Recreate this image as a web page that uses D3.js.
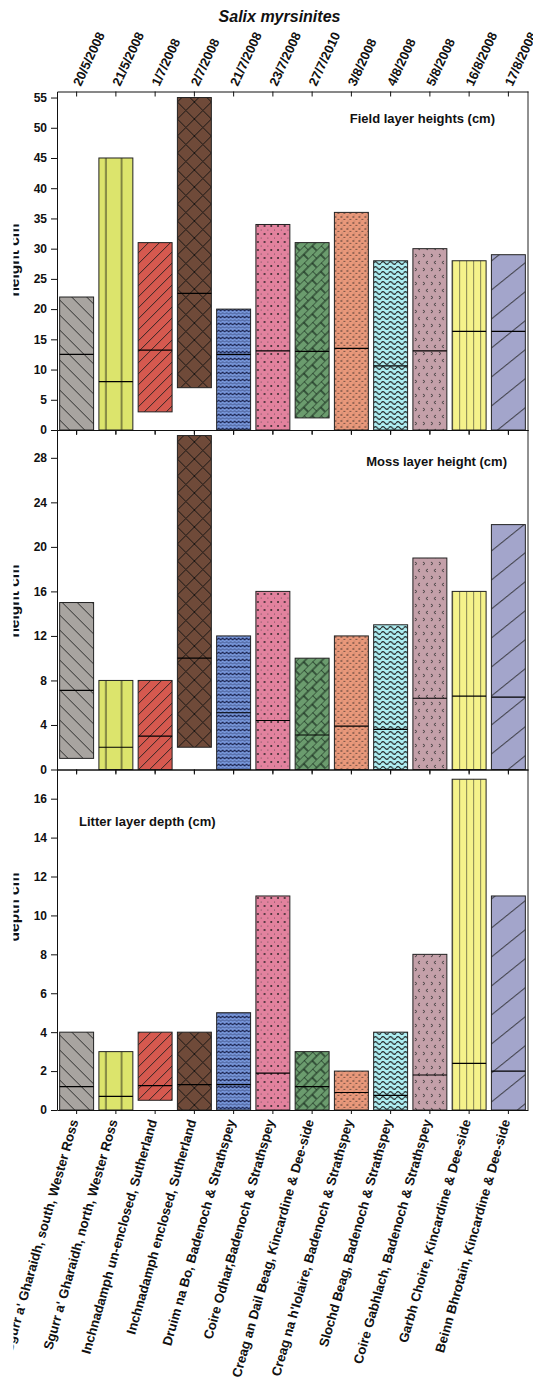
<!DOCTYPE html>
<html>
<head>
<meta charset="utf-8">
<script src="https://cdn.jsdelivr.net/npm/d3@7"></script>
<style>
  html, body { margin: 0; padding: 0; background: #fff; }
  svg { display: block; font-family: "Liberation Sans", Arial, sans-serif; }
</style>
</head>
<body>
<svg id="chart" width="533" height="1386"></svg>
<script>
// Sites, survey dates and the three vertical-structure measurements
const sites = [
  "Sgurr a' Gharaidh, south, Wester Ross",
  "Sgurr a' Gharaidh, north, Wester Ross",
  "Inchnadamph un-enclosed, Sutherland",
  "Inchnadamph enclosed, Sutherland",
  "Druim na Bo, Badenoch & Strathspey",
  "Coire Odhar,Badenoch & Strathspey",
  "Creag an Dail Beag, Kincardine & Dee-side",
  "Creag na h'Iolaire, Badenoch & Strathspey",
  "Slochd Beag, Badenoch & Strathspey",
  "Coire Gabhlach, Badenoch & Strathspey",
  "Garbh Choire, Kincardine & Dee-side",
  "Beinn Bhrotain, Kincardine & Dee-side"
];
const dates = ["20/5/2008", "21/5/2008", "1/7/2008", "2/7/2008", "21/7/2008", "23/7/2008",
               "27/7/2010", "3/8/2008", "4/8/2008", "5/8/2008", "16/8/2008", "17/8/2008"];

const fieldLow    = [0, 0, 3, 7, 0, 0, 2, 0, 0, 0, 0, 0];
const fieldMedian = [12.5, 8, 13.2, 22.6, 12.5, 13.1, 13, 13.5, 10.6, 13.1, 16.3, 16.3];
const fieldHigh   = [22, 45, 31, 55, 20, 34, 31, 36, 28, 30, 28, 29];

const mossLow    = [1, 0, 0, 2, 0, 0, 0, 0, 0, 0, 0, 0];
const mossMedian = [7.1, 2, 3, 10, 5.1, 4.4, 3.1, 3.9, 3.6, 6.4, 6.6, 6.5];
const mossHigh   = [15, 8, 8, 30, 12, 16, 10, 12, 13, 19, 16, 22];

const litterLow    = [0, 0, 0.5, 0, 0, 0, 0, 0, 0, 0, 0, 0];
const litterMedian = [1.2, 0.7, 1.25, 1.3, 1.3, 1.9, 1.2, 0.9, 0.75, 1.8, 2.4, 2.0];
const litterHigh   = [4, 3, 4, 4, 5, 11, 3, 2, 4, 8, 17, 11];

const fieldTicks  = d3.range(0, 56, 5);
const mossTicks   = d3.range(0, 29, 4);
const litterTicks = d3.range(0, 17, 2);

// Fill colour of each site's bars
const colours = ["#a8a4a0", "#dce46c", "#d6594f", "#6f4a39", "#7b9be0", "#e2829e",
                 "#6b9c6e", "#e9987a", "#aeeef2", "#c4a0a9", "#f5f28b", "#a3a5cb"];

const svg = d3.select("#chart");
const W = 533;
const left = 57, right = 528;

const x = d3.scaleBand().domain(sites).range([left, right])
  .paddingInner(0.135).paddingOuter(0.0675);
const bw = x.bandwidth();

// ---------- hatch / texture patterns, one per site ----------
const defs = svg.append("defs");
const ink = "#1e1e1e";

function makePattern(i, w, h, draw, extra) {
  const p = defs.append("pattern")
    .attr("id", "pat" + i)
    .attr("patternUnits", "userSpaceOnUse")
    .attr("width", w).attr("height", h)
    .attr("patternTransform", `translate(${x(sites[i])},0)` + (extra || ""));
  p.append("rect").attr("width", w).attr("height", h).attr("fill", colours[i]);
  draw(p);
}
const strokePath = (p, d, sw, col) => p.append("path").attr("d", d)
  .attr("fill", "none").attr("stroke", col || ink).attr("stroke-width", sw || 1);
const dot = (p, cx, cy, r, col) => p.append("circle").attr("cx", cx).attr("cy", cy)
  .attr("r", r).attr("fill", col || ink);

// 0: back diagonal hatch
makePattern(0, 15, 15, p => strokePath(p, "M0,0L15,15M-2,13L2,17M13,-2L17,2", 0.9));
// 1: wide vertical lines
makePattern(1, 15.7, 10, p => strokePath(p, "M7,0V10", 1.1, "#3a3a22"));
// 2: forward diagonal hatch
makePattern(2, 11, 11, p => strokePath(p, "M0,11L11,0M-2,2L2,-2M9,13L13,9", 0.9));
// 3: diamond cross-hatch
makePattern(3, 17, 17, p => strokePath(p, "M0,0L17,17M17,0L0,17", 0.9, "#111"));
// 4: woven zig-zag
makePattern(4, 8, 7, p => {
  strokePath(p, "M0,3L2,1L4,3L6,1L8,3", 1.1, "#1b2450");
  strokePath(p, "M0,6.5L2,4.5L4,6.5L6,4.5L8,6.5", 0.7, "#1b2450");
});
// 5: fine dots
makePattern(5, 6.7, 8, p => { dot(p, 2, 2, 0.9); dot(p, 5.3, 6, 0.5, "#444"); });
// 6: diagonal brickwork
makePattern(6, 12, 12, p => strokePath(p, "M0,0H12M0,6H12M0,0V6M6,6V12", 1.2, "#14261a"), " rotate(-45)");
// 7: dense stipple
makePattern(7, 6, 6, p => { dot(p, 1, 1, 0.75); dot(p, 4, 3.3, 0.65); dot(p, 2, 5, 0.4, "#555"); });
// 8: waves
makePattern(8, 7.5, 5, p => strokePath(p, "M0,3Q1.875,0.4 3.75,3T7.5,3", 1.2));
// 9: small arrowheads
makePattern(9, 8, 14, p => {
  strokePath(p, "M2,2L4,3.5L2,5", 0.9, "#333");
  strokePath(p, "M7,9L5,10.5L7,12", 0.9, "#333");
});
// 10: narrow vertical lines
makePattern(10, 7, 10, p => strokePath(p, "M0,0V10", 1.1, "#222"));
// 11: sparse forward diagonals
makePattern(11, 36, 29, p => strokePath(p, "M0,29L36,0M-4,3.2L4,-3.2M32,32.2L40,25.8", 1, "#222"));

// Left-edge clip applied to the whole drawing
defs.append("clipPath").attr("id", "edge")
  .append("rect").attr("x", 13.5).attr("y", 0).attr("width", W).attr("height", 1386);

const g = svg.append("g").attr("clip-path", "url(#edge)");

// ---------- panels ----------
const panels = [
  { low: fieldLow, med: fieldMedian, high: fieldHigh, max: 56, ticks: fieldTicks,
    top: 91.5, bottom: 430, yTitle: "height cm", yTitleY: 260,
    label: "Field layer heights (cm)", labelX: 495, labelY: 123, labelAnchor: "end" },
  { low: mossLow, med: mossMedian, high: mossHigh, max: 30.5, ticks: mossTicks,
    top: 430, bottom: 769.5, yTitle: "height cm", yTitleY: 601,
    label: "Moss layer height (cm)", labelX: 507, labelY: 466, labelAnchor: "end" },
  { low: litterLow, med: litterMedian, high: litterHigh, max: 17.5, ticks: litterTicks,
    top: 769.5, bottom: 1110, yTitle: "depth cm", yTitleY: 907,
    label: "Litter layer depth (cm)", labelX: 79, labelY: 826, labelAnchor: "start" }
];

panels.forEach((pn, k) => {
  const y = d3.scaleLinear().domain([0, pn.max]).range([pn.bottom, pn.top]);
  const pg = g.append("g");

  // bars (min–max range) with median line
  const rows = sites.map((s, i) => ({ s, i, lo: pn.low[i], md: pn.med[i], hi: pn.high[i] }));
  pg.selectAll("rect.bar").data(rows).join("rect")
    .attr("class", "bar")
    .attr("x", d => x(d.s)).attr("width", bw)
    .attr("y", d => y(d.hi)).attr("height", d => y(d.lo) - y(d.hi))
    .attr("fill", d => `url(#pat${d.i})`)
    .attr("stroke", "#222").attr("stroke-width", 1);
  pg.selectAll("line.med").data(rows).join("line")
    .attr("class", "med")
    .attr("x1", d => x(d.s)).attr("x2", d => x(d.s) + bw)
    .attr("y1", d => y(d.md)).attr("y2", d => y(d.md))
    .attr("stroke", "#000").attr("stroke-width", 1.2);

  // frame: right edge
  pg.append("line").attr("x1", right).attr("x2", right)
    .attr("y1", pn.top).attr("y2", pn.bottom)
    .attr("stroke", "#222").attr("stroke-width", 1);

  // top axis (ticks point inward)
  const topAx = pg.append("g").attr("transform", `translate(0,${pn.top})`)
    .call(d3.axisTop(x).tickSize(-5).tickSizeOuter(0).tickFormat(""));
  // bottom axis (ticks point outward)
  const botAx = pg.append("g").attr("transform", `translate(0,${pn.bottom})`)
    .call(d3.axisBottom(x).tickSize(4).tickSizeOuter(0).tickFormat(""));
  // left axis
  const leftAx = pg.append("g").attr("transform", `translate(${left},0)`)
    .call(d3.axisLeft(y).tickValues(pn.ticks).tickSize(6).tickPadding(4).tickSizeOuter(0));
  leftAx.selectAll("text").attr("font-size", 12).attr("font-weight", "bold").attr("fill", "#111");

  [topAx, botAx, leftAx].forEach(a => {
    a.selectAll("path.domain").attr("stroke", "#111").attr("stroke-width", 1);
    a.selectAll("line").attr("stroke", "#111").attr("stroke-width", 1);
  });

  // y axis title
  pg.append("text")
    .attr("transform", `translate(19,${pn.yTitleY}) rotate(-90)`)
    .attr("text-anchor", "middle")
    .attr("font-size", 15.5).attr("font-weight", "bold").attr("fill", "#111")
    .text(pn.yTitle);

  // panel caption
  pg.append("text")
    .attr("x", pn.labelX).attr("y", pn.labelY)
    .attr("text-anchor", pn.labelAnchor)
    .attr("font-size", 13).attr("font-weight", "bold").attr("fill", "#111")
    .text(pn.label);

  // survey dates above the first panel
  if (k === 0) {
    pg.selectAll("text.date").data(dates).join("text")
      .attr("class", "date")
      .attr("transform", (d, i) => `translate(${x(sites[i]) + bw / 2 + 4},87) rotate(-65)`)
      .attr("font-size", 13).attr("font-weight", "bold").attr("fill", "#111")
      .text(d => d);
  }
  // site names below the last panel
  if (k === panels.length - 1) {
    pg.selectAll("text.site").data(sites).join("text")
      .attr("class", "site")
      .attr("transform", d => `translate(${x(d) + bw / 2 + 2},1121) rotate(-74)`)
      .attr("text-anchor", "end")
      .attr("font-size", 13.2).attr("font-weight", "bold").attr("fill", "#111")
      .text(d => d);
  }
});

// chart title
g.append("text")
  .attr("x", 279.5).attr("y", 21.5)
  .attr("text-anchor", "middle")
  .attr("font-size", 16).attr("font-weight", "bold").attr("font-style", "italic").attr("fill", "#111")
  .text("Salix myrsinites");
</script>
</body>
</html>
